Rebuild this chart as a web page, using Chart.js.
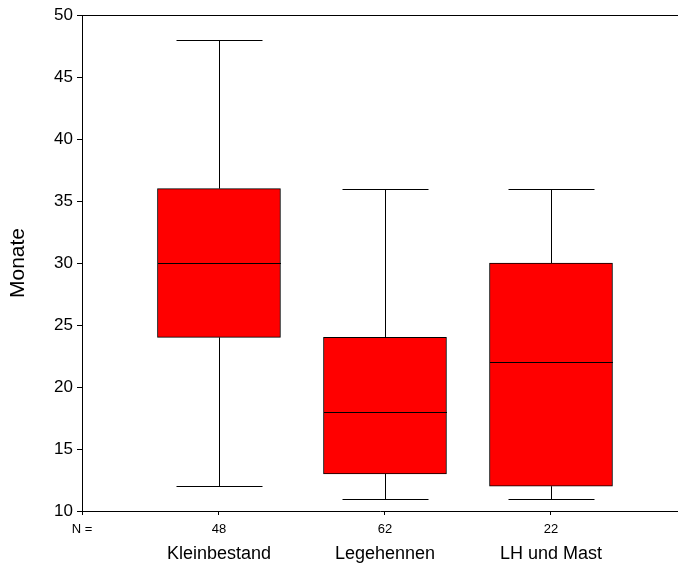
<!DOCTYPE html>
<html>
<head>
<meta charset="utf-8">
<script src="https://cdn.jsdelivr.net/npm/chart.js@4"></script>
<style>
  html, body { margin: 0; padding: 0; background: #fff; }
  #wrap { width: 678px; height: 564px; }
</style>
</head>
<body>
<div id="wrap"><canvas id="boxChart" width="678" height="564"></canvas></div>
<script>
// Box plot values
const categories = ['Kleinbestand', 'Legehennen', 'LH und Mast'];
const counts = [48, 62, 22];
const whiskerLow = [12, 11, 11];
const q1 = [24, 13, 12];
const median = [30, 18, 22];
const q3 = [36, 24, 30];
const whiskerHigh = [48, 36, 36];
const yTicks = [10, 15, 20, 25, 30, 35, 40, 45, 50];

const X_MIN = -0.825;
const X_MAX = 2.765;
const font = 'Liberation Sans, Arial, sans-serif';

// whiskers, caps and medians, drawn through the chart scales
const boxExtras = {
    id: 'boxExtras',
    afterDatasetsDraw(chart) {
        const ctx = chart.ctx;
        const xs = chart.scales.x;
        const ys = chart.scales.y;
        const boxW = 123;
        const capW = 86;
        ctx.save();
        ctx.strokeStyle = '#000';
        ctx.lineWidth = 1;
        categories.forEach((c, i) => {
            const cx = Math.round(xs.getPixelForValue(i)) + 0.5;
            const yLo = Math.round(ys.getPixelForValue(whiskerLow[i])) + 0.5;
            const yHi = Math.round(ys.getPixelForValue(whiskerHigh[i])) + 0.5;
            const yQ1 = ys.getPixelForValue(q1[i]);
            const yQ3 = ys.getPixelForValue(q3[i]);
            const yMed = Math.round(ys.getPixelForValue(median[i])) + 0.5;
            ctx.beginPath();
            ctx.moveTo(cx, yQ1); ctx.lineTo(cx, yLo);
            ctx.moveTo(cx, yQ3); ctx.lineTo(cx, yHi);
            ctx.moveTo(cx - capW / 2, yLo); ctx.lineTo(cx + capW / 2, yLo);
            ctx.moveTo(cx - capW / 2, yHi); ctx.lineTo(cx + capW / 2, yHi);
            ctx.moveTo(cx - boxW / 2, yMed); ctx.lineTo(cx + boxW / 2, yMed);
            ctx.stroke();
        });
        // top frame line
        const a = chart.chartArea;
        ctx.beginPath();
        ctx.moveTo(a.left, Math.round(a.top) + 0.5);
        ctx.lineTo(a.right, Math.round(a.top) + 0.5);
        ctx.stroke();
        ctx.restore();
    }
};

new Chart(document.getElementById('boxChart'), {
    type: 'bar',
    data: {
        datasets: [{
            data: categories.map((c, i) => ({ x: i, y: [q1[i], q3[i]] })),
            backgroundColor: '#ff0000',
            borderColor: '#000',
            borderWidth: 1,
            borderSkipped: false,
            barThickness: 123
        }]
    },
    options: {
        responsive: false,
        animation: false,
        layout: { padding: { top: 15, left: 0, right: 0, bottom: 0 } },
        plugins: { legend: { display: false }, tooltip: { enabled: false } },
        scales: {
            x: {
                type: 'linear',
                position: 'bottom',
                weight: 0,
                offset: false,
                min: X_MIN,
                max: X_MAX,
                afterBuildTicks: s => {
                    s.ticks = [{ value: X_MIN }].concat(categories.map((c, i) => ({ value: i })));
                },
                afterFit: s => { s.height = 22; },
                border: { color: '#000', width: 1 },
                grid: { offset: false, drawOnChartArea: false, drawTicks: true, tickLength: 4, color: '#000' },
                ticks: {
                    autoSkip: false,
                    maxRotation: 0,
                    padding: 7,
                    color: '#000',
                    font: { family: font, size: 13 },
                    callback: (v) => v === X_MIN ? 'N =' : String(counts[Math.round(v)])
                }
            },
            x2: {
                type: 'linear',
                position: 'bottom',
                weight: 1,
                offset: false,
                min: X_MIN,
                max: X_MAX,
                afterBuildTicks: s => {
                    s.ticks = categories.map((c, i) => ({ value: i }));
                },
                afterFit: s => { s.height = 31; },
                border: { display: false },
                grid: { display: false, offset: false, drawTicks: false },
                ticks: {
                    autoSkip: false,
                    maxRotation: 0,
                    padding: 10,
                    color: '#000',
                    font: { family: font, size: 18 },
                    callback: (v) => categories[Math.round(v)]
                }
            },
            y: {
                min: 10,
                max: 50,
                afterBuildTicks: s => { s.ticks = yTicks.map(v => ({ value: v })); },
                afterFit: s => { s.width = 82; },
                border: { color: '#000', width: 1 },
                grid: { drawOnChartArea: false, drawTicks: true, tickLength: 5, color: '#000' },
                ticks: {
                    padding: 4,
                    color: '#000',
                    font: { family: font, size: 17 }
                },
                title: {
                    display: true,
                    text: 'Monate',
                    color: '#000',
                    padding: { top: 6, bottom: 0 },
                    font: { family: font, size: 21 }
                }
            }
        }
    },
    plugins: [boxExtras]
});
</script>
</body>
</html>
